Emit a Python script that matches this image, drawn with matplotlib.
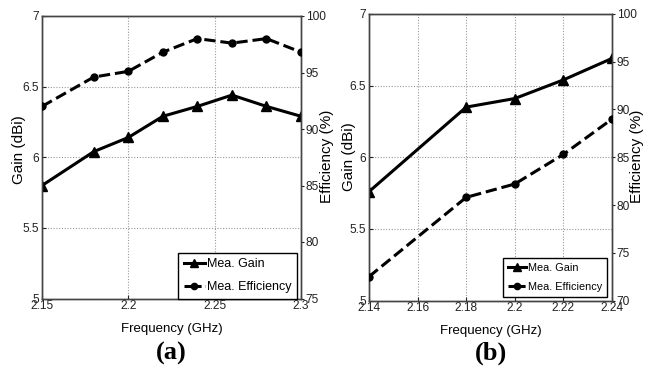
import matplotlib
matplotlib.use("Agg")
import matplotlib.pyplot as plt
from matplotlib.lines import Line2D

plt.rcParams['font.family'] = ['Liberation Sans', 'DejaVu Sans']
plt.rcParams['font.size'] = 9

# Panel (a)
freq_a = [2.15, 2.18, 2.2, 2.22, 2.24, 2.26, 2.28, 2.3]
gain_a = [5.80, 6.04, 6.14, 6.29, 6.36, 6.44, 6.36, 6.29]
eff_a = [92.0, 94.6, 95.1, 96.8, 98.0, 97.6, 98.0, 96.8]
xticks_a = [2.15, 2.2, 2.25, 2.3]
xticklabels_a = ['2.15', '2.2', '2.25', '2.3']
effticks_a = [75, 80, 85, 90, 95, 100]

# Panel (b)
freq_b = [2.14, 2.18, 2.2, 2.22, 2.24]
gain_b = [5.76, 6.35, 6.41, 6.54, 6.69]
eff_b = [72.5, 80.8, 82.2, 85.3, 89.0]
xticks_b = [2.14, 2.16, 2.18, 2.2, 2.22, 2.24]
xticklabels_b = ['2.14', '2.16', '2.18', '2.2', '2.22', '2.24']
effticks_b = [70, 75, 80, 85, 90, 95, 100]

gainticks = [5, 5.5, 6, 6.5, 7]
gainticklabels = ['5', '5.5', '6', '6.5', '7']

W, H = 651, 370
fig = plt.figure(figsize=(W / 100, H / 100), dpi=100)


def place_ylabel(axis, x_px, y_px):
    axis.set_label_coords(x_px / W, 1 - y_px / H, transform=fig.transFigure)
    axis.label.set_verticalalignment('center')
    axis.label.set_horizontalalignment('center')


def panel(rect, freq, gain, eff, xticks, xlabels, effticks, tag, leg_anchor,
          leg_size, label_px):
    ax = fig.add_axes(rect)
    ax.set_xlim(xticks[0], xticks[-1])
    ax.set_ylim(5, 7)
    ax.set_xticks(xticks)
    ax.set_xticklabels(xlabels)
    ax.set_yticks(gainticks)
    ax.set_yticklabels(gainticklabels)
    ax.grid(True, color='#9a9a9a', linestyle=(0, (1, 1.5)), linewidth=0.8)
    ax.tick_params(direction='in', length=3, pad=2, colors='#222222', labelsize=8.6)
    ax.tick_params(axis='x', pad=1)
    ax.set_ylabel('Gain (dBi)', fontsize=11)
    ax.set_xlabel('Frequency (GHz)', fontsize=9.5, labelpad=8)
    for s in ax.spines.values():
        s.set_color('#444444')
        s.set_linewidth(1.0)

    ax2 = ax.twinx()
    ax2.set_ylim(effticks[0], effticks[-1])
    ax2.set_yticks(effticks)
    ax2.tick_params(direction='out', length=2.5, pad=1, colors='#222222', labelsize=8.6)
    ax2.set_ylabel('Efficiency (%)', fontsize=11)
    for s in ax2.spines.values():
        s.set_color('#444444')
        s.set_linewidth(1.0)

    (gx, gy), (ex, ey) = label_px
    place_ylabel(ax.yaxis, gx, gy)
    place_ylabel(ax2.yaxis, ex, ey)

    ax.plot(freq, gain, color='black', linewidth=2.2, marker='^',
            markersize=6.5, zorder=3)
    ax2.plot(freq, eff, color='black', linewidth=2.2, linestyle='--',
             marker='o', markersize=5, zorder=3)

    handles = [
        Line2D([], [], color='black', linewidth=2.2, marker='^', markersize=6),
        Line2D([], [], color='black', linewidth=2.2, linestyle=(0, (2.2, 1.2)),
               marker='o', markersize=4.5),
    ]
    leg = ax2.legend(handles, ['Mea. Gain', 'Mea. Efficiency'], loc='lower right',
                     bbox_to_anchor=leg_anchor, fontsize=leg_size, fancybox=False,
                     edgecolor='black', framealpha=1, handlelength=1.7,
                     handletextpad=0.15, borderpad=0.45, labelspacing=0.85,
                     borderaxespad=0)
    leg.get_frame().set_linewidth(1.0)

    cx = rect[0] + rect[2] / 2
    fig.text(cx, 1 - 353 / H, tag, ha='center', va='center', fontsize=19,
             fontweight='bold', family='Liberation Serif')
    return ax, ax2


panel([42 / W, 1 - 298.5 / H, 259 / W, 282.5 / H], freq_a, gain_a, eff_a,
      xticks_a, xticklabels_a, effticks_a, '(a)', (0.985, 0.0), 9,
      ((19, 150), (327, 156)))
panel([369 / W, 1 - 300.5 / H, 243 / W, 286.5 / H], freq_b, gain_b, eff_b,
      xticks_b, xticklabels_b, effticks_b, '(b)', (0.98, 0.012), 7.8,
      ((349, 157), (637, 156)))

fig.savefig('out.png', dpi=100)
